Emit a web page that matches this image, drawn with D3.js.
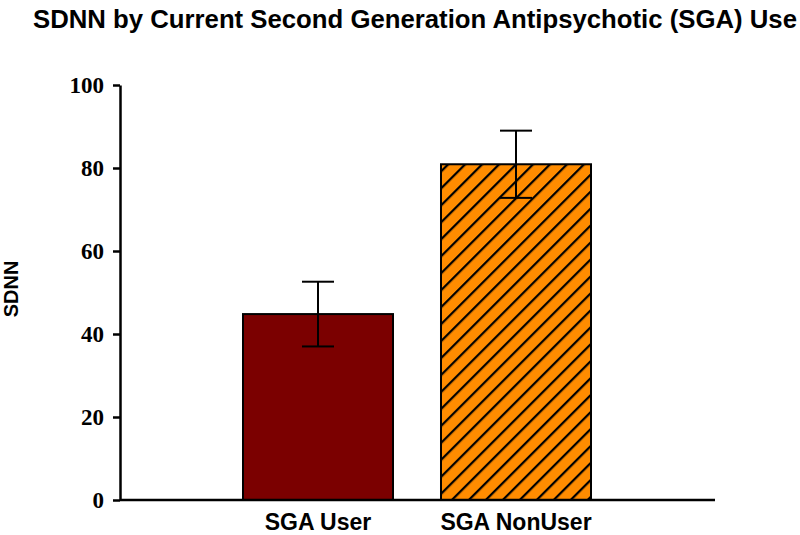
<!DOCTYPE html>
<html><head><meta charset="utf-8">
<script src="https://cdn.jsdelivr.net/npm/d3@7"></script>
<style>body{margin:0;background:#fff}svg{display:block}</style>
</head><body>
<script>
const categories = ["SGA User", "SGA NonUser"];
const means = [44.8, 80.9];
const errors = [7.8, 8.1];
const yTicks = [0, 20, 40, 60, 80, 100];
const titleText = "SDNN by Current Second Generation Antipsychotic (SGA) Use";
const yLabel = "SDNN";

const W = 800, H = 535;
const svg = d3.select("body").append("svg").attr("width", W).attr("height", H);

const defs = svg.append("defs");
const pat = defs.append("pattern").attr("id", "hatch").attr("patternUnits", "userSpaceOnUse")
  .attr("width", 12).attr("height", 12).attr("patternTransform", "rotate(45)");
pat.append("rect").attr("width", 12).attr("height", 12).attr("fill", "#FF8C00");
pat.append("line").attr("x1", 0).attr("y1", 0).attr("x2", 0).attr("y2", 12)
  .attr("stroke", "#000").attr("stroke-width", 4.5);

const y = d3.scaleLinear().domain([0, 100]).range([500, 85]);
const x = d3.scaleBand().domain(categories).range([219, 615]).paddingInner(0.2424).paddingOuter(0.1212);
const fills = ["#7B0000", "url(#hatch)"];

// title
svg.append("text").attr("x", 33).attr("y", 28).attr("font-family", "Liberation Sans, Arial, sans-serif")
  .attr("font-weight", "bold").attr("font-size", 25).attr("textLength", 764).attr("lengthAdjust", "spacingAndGlyphs")
  .text(titleText);

// y label
svg.append("text").attr("transform", "translate(18,289) rotate(-90)").attr("text-anchor", "middle")
  .attr("font-family", "Liberation Sans, Arial, sans-serif").attr("font-weight", "bold").attr("font-size", 20)
  .text(yLabel);

// bars
const data = categories.map((c, i) => ({c, m: means[i], e: errors[i], f: fills[i]}));
svg.selectAll("rect.bar").data(data).enter().append("rect").attr("class", "bar")
  .attr("x", d => x(d.c)).attr("width", x.bandwidth())
  .attr("y", d => y(d.m)).attr("height", d => y(0) - y(d.m))
  .attr("fill", d => d.f).attr("stroke", "#000").attr("stroke-width", 2);

// error bars
const eb = svg.selectAll("g.eb").data(data).enter().append("g").attr("stroke", "#000").attr("stroke-width", 2);
eb.append("line").attr("x1", d => x(d.c) + x.bandwidth()/2).attr("x2", d => x(d.c) + x.bandwidth()/2)
  .attr("y1", d => y(d.m + d.e)).attr("y2", d => y(d.m - d.e));
eb.append("line").attr("x1", d => x(d.c) + x.bandwidth()/2 - 16).attr("x2", d => x(d.c) + x.bandwidth()/2 + 16)
  .attr("y1", d => y(d.m + d.e)).attr("y2", d => y(d.m + d.e));
eb.append("line").attr("x1", d => x(d.c) + x.bandwidth()/2 - 16).attr("x2", d => x(d.c) + x.bandwidth()/2 + 16)
  .attr("y1", d => y(d.m - d.e)).attr("y2", d => y(d.m - d.e));

// y axis
const yAxis = d3.axisLeft(y).tickValues(yTicks).tickSize(7).tickPadding(9).tickSizeOuter(0);
const gy = svg.append("g").attr("transform", "translate(120,0)").call(yAxis);
gy.select(".domain").attr("stroke", "#000").attr("stroke-width", 2.5);
gy.selectAll(".tick line").attr("stroke", "#000").attr("stroke-width", 2.5);
gy.selectAll(".tick text").attr("font-family", "Liberation Serif, Times New Roman, serif")
  .attr("font-weight", "bold").attr("font-size", 23).attr("fill", "#000");

// x axis line
svg.append("line").attr("x1", 120).attr("x2", 715).attr("y1", 500).attr("y2", 500)
  .attr("stroke", "#000").attr("stroke-width", 2.5);

// category labels
svg.selectAll("text.cat").data(categories).enter().append("text").attr("class", "cat")
  .attr("x", d => x(d) + x.bandwidth()/2).attr("y", 530).attr("text-anchor", "middle")
  .attr("font-family", "Liberation Sans, Arial, sans-serif").attr("font-weight", "bold").attr("font-size", 23)
  .text(d => d);
</script>
</body></html>
